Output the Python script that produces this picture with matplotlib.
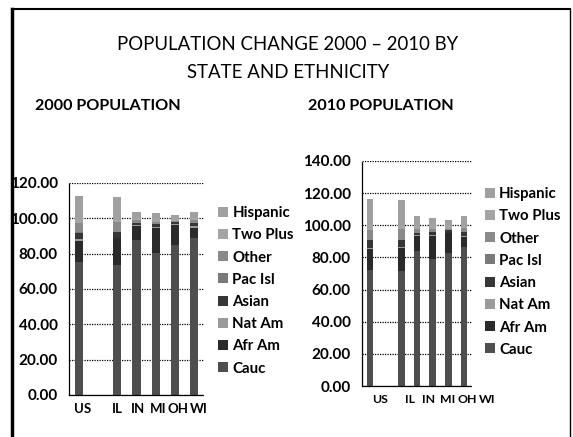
import numpy as np
import matplotlib
matplotlib.use('Agg')
import matplotlib.pyplot as plt
from matplotlib.lines import Line2D
from matplotlib.transforms import ScaledTranslation

plt.rcParams['font.family'] = ['Lato', 'DejaVu Sans']

# categories (blank slot between US and the states, as in the original)
states = ['US', '', 'IL', 'IN', 'MI', 'OH', 'WI']
groups = ['Cauc', 'Afr Am', 'Nat Am', 'Asian', 'Pac Isl', 'Other', 'Two Plus', 'Hispanic']

# 2000 shares (%), Hispanic counted on top of the race groups
cauc_2000 = [75.1, 0, 73.5, 87.5, 80.2, 85.0, 88.9]
afram_2000 = [12.3, 0, 15.1, 8.4, 14.2, 11.5, 5.7]
natam_2000 = [0.9, 0, 0.2, 0.3, 0.6, 0.2, 0.9]
asian_2000 = [3.6, 0, 3.4, 1.0, 1.8, 1.2, 1.7]
pacisl_2000 = [0.1, 0, 0.0, 0.0, 0.0, 0.0, 0.0]
other_2000 = [5.5, 0, 5.8, 1.6, 1.3, 0.8, 1.6]
twoplus_2000 = [2.4, 0, 1.9, 1.2, 1.9, 1.4, 1.2]
hisp_2000 = [12.5, 0, 12.3, 3.5, 3.3, 1.9, 3.6]

# 2010 shares (%)
cauc_2010 = [72.4, 0, 71.5, 84.3, 78.9, 82.7, 86.2]
afram_2010 = [12.6, 0, 14.5, 9.1, 14.2, 12.2, 6.3]
natam_2010 = [0.9, 0, 0.3, 0.3, 0.6, 0.2, 1.0]
asian_2010 = [4.8, 0, 4.6, 1.6, 2.4, 1.7, 2.3]
pacisl_2010 = [0.2, 0, 0.0, 0.0, 0.0, 0.0, 0.0]
other_2010 = [6.2, 0, 6.7, 2.7, 1.5, 1.1, 2.4]
twoplus_2010 = [2.9, 0, 2.3, 2.0, 2.3, 2.1, 1.8]
hisp_2010 = [16.3, 0, 15.8, 6.0, 4.4, 3.1, 5.9]

data_2000 = [cauc_2000, afram_2000, natam_2000, asian_2000,
             pacisl_2000, other_2000, twoplus_2000, hisp_2000]
data_2010 = [cauc_2010, afram_2010, natam_2010, asian_2010,
             pacisl_2010, other_2010, twoplus_2010, hisp_2010]

# grayscale fills like the photocopied slide
colors = ['#4e4e4e', '#2a2a2a', '#9a9a9a', '#363636',
          '#7a7a7a', '#8a8a8a', '#a4a4a4', '#a0a0a0']

W, H = 573, 437
fig = plt.figure(figsize=(W / 100, H / 100), dpi=100)
fig.patch.set_facecolor('white')


def px(x, y):
    return x / W, 1 - y / H


# slide frame
fig.add_artist(Line2D([12 / W, 12 / W], [0, 1 - 9 / H], color='black', lw=2.5, transform=fig.transFigure))
fig.add_artist(Line2D([12 / W, 570 / W], [1 - 9 / H, 1 - 9 / H], color='black', lw=1.5, transform=fig.transFigure))
fig.add_artist(Line2D([570 / W, 570 / W], [0, 1 - 9 / H], color='black', lw=1.0, transform=fig.transFigure))

fig.text(*px(288, 45), 'POPULATION CHANGE 2000 \u2013 2010 BY', ha='center', va='center', fontsize=13.4)
fig.text(*px(288, 73), 'STATE AND ETHNICITY', ha='center', va='center', fontsize=13.4)
fig.text(*px(35, 106), '2000 POPULATION', ha='left', va='center', fontsize=11.6, fontweight='bold')
fig.text(*px(308, 106), '2010 POPULATION', ha='left', va='center', fontsize=11.6, fontweight='bold')


def draw(ax, data, ymax, legend_xy, label_shift, xsize):
    x = np.arange(len(states))
    bottom = np.zeros(len(states))
    handles = []
    for vals, c, g in zip(data, colors, groups):
        b = ax.bar(x, vals, bottom=bottom, width=0.42, color=c, label=g, linewidth=0)
        handles.append(b)
        bottom += np.array(vals)
    ax.set_xlim(-0.5, len(states) - 0.5)
    ax.set_ylim(0, ymax)
    ax.set_yticks(np.arange(0, ymax + 1, 20))
    ax.yaxis.set_major_formatter(matplotlib.ticker.FormatStrFormatter('%.2f'))
    ax.set_xticks(x)
    ax.set_xticklabels(states)
    ax.grid(axis='y', linestyle=(0, (1, 1)), color='black', linewidth=0.9)
    ax.set_axisbelow(True)
    for s in ['top', 'right']:
        ax.spines[s].set_visible(False)
    for s in ['left', 'bottom']:
        ax.spines[s].set_linestyle((0, (1, 1)))
        ax.spines[s].set_linewidth(0.9)
    ax.tick_params(length=0)
    ax.tick_params(axis='y', pad=8, labelsize=11)
    ax.tick_params(axis='x', pad=6, labelsize=xsize)
    for t in ax.get_yticklabels() + ax.get_xticklabels():
        t.set_fontweight('bold')
    # the scanned slide shows the state labels drifting right of their bars
    for t, dx in zip(ax.get_xticklabels(), label_shift):
        off = ScaledTranslation(dx / 100, 0, fig.dpi_scale_trans)
        t.set_transform(t.get_transform() + off)
    leg = ax.legend(handles[::-1], groups[::-1], loc='upper left',
                    bbox_to_anchor=px(*legend_xy), bbox_transform=fig.transFigure,
                    frameon=False, fontsize=10.8, handlelength=0.65, handleheight=0.65,
                    handletextpad=0.3, labelspacing=0.55, borderaxespad=0, borderpad=0)
    for t in leg.get_texts():
        t.set_fontweight('bold')


ax1 = fig.add_axes([69 / W, 1 - 395 / H, 135 / W, 212 / H])
draw(ax1, data_2000, 120, (218, 206), [4, 0, 0, 1, 2, 3, 4], 9.5)

ax2 = fig.add_axes([362 / W, 1 - 386 / H, 110 / W, 225 / H])
draw(ax2, data_2010, 140, (485, 187), [10, 0, 9, 12, 15, 19, 23], 8.8)

fig.savefig('out.png', dpi=100, facecolor='white')
